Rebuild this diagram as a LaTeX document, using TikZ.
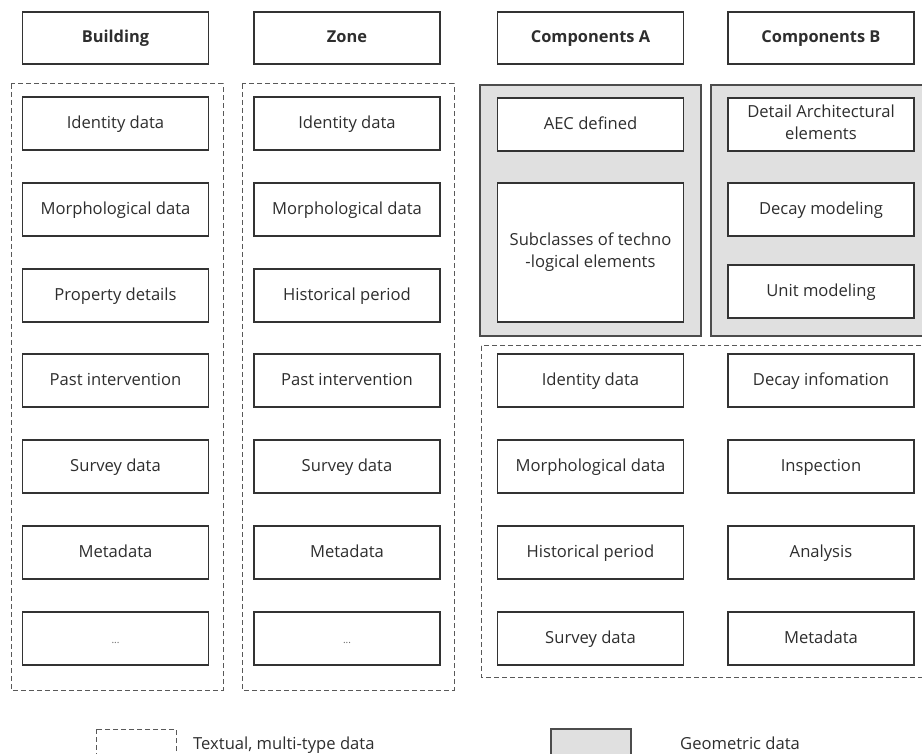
\documentclass[tikz,border=0pt]{standalone}
\usepackage{fontspec}
\setmainfont{Open Sans}
\newcommand\cellstrut{\rule[-5pt]{0pt}{20pt}}
\begin{document}
\begin{tikzpicture}[x=1pt,y=-1pt,
  cell/.style={draw=black!80, line width=1.8pt, fill=white, text=black!82,
    font=\fontsize{16.6}{21.5}\selectfont, align=center, inner sep=0pt,
    minimum width=186pt, minimum height=53pt, execute at begin node={\cellstrut}},
  head/.style={cell, font=\bfseries\fontsize{16.4}{21}\selectfont, minimum height=52pt},
  group/.style={draw=black!65, line width=1pt, dash pattern=on 5pt off 3pt},
  geo/.style={draw=black!70, fill=black!12, line width=1.2pt},
  legtext/.style={anchor=base west, inner sep=0pt, text=black!82, font=\fontsize{16.6}{21}\selectfont}]
\useasboundingbox (0,0) rectangle (922,754);

% column groups
\draw[group] (11,84) rectangle (223,690);
\draw[group] (242,84) rectangle (454,690);
\draw[geo] (480,85) rectangle (701,336);
\draw[geo] (711,85) rectangle (930,336);
\draw[group] (481,346) rectangle (930,677);

% headers
\node[head] (hb) at (115.5,38) {Building};
\node[head] (hz) at (347,38) {Zone};
\node[head] (ha) at (590.5,38) {Components A};
\node[head] (hc) at (821,38) {Components B};

% Building
\node[cell] (b1) at (115.5,123.5) {Identity data};
\node[cell] (b2) at (115.5,209.5) {Morphological data};
\node[cell] (b3) at (115.5,295.5) {Property details};
\node[cell] (b4) at (115.5,380.5) {Past intervention};
\node[cell] (b5) at (115.5,466.5) {Survey data};
\node[cell] (b6) at (115.5,552.5) {Metadata};
\node[cell, text=black!60] (b7) at (115.5,638.5) {\fontsize{10}{20}\selectfont ...};

% Zone
\node[cell] (z1) at (347,123.5) {Identity data};
\node[cell] (z2) at (347,209.5) {Morphological data};
\node[cell] (z3) at (347,295.5) {Historical period};
\node[cell] (z4) at (347,380.5) {Past intervention};
\node[cell] (z5) at (347,466.5) {Survey data};
\node[cell] (z6) at (347,552.5) {Metadata};
\node[cell, text=black!60] (z7) at (347,638.5) {\fontsize{10}{20}\selectfont ...};

% Components A, geometric part
\node[cell] (ag1) at (590.5,124.5) {AEC defined};
\node[cell, minimum height=139pt] (ag2) at (590.5,252.5) {Subclasses of techno\\-logical elements};

% Components B, geometric part
\node[cell] (bg1) at (821,124.5) {Detail Architectural\\elements};
\node[cell] (bg2) at (821,209.5) {Decay modeling};
\node[cell] (bg3) at (821,291.5) {Unit modeling};

% Components A, textual part
\node[cell] (at1) at (590.5,380.5) {Identity data};
\node[cell] (at2) at (590.5,466.5) {Morphological data};
\node[cell] (at3) at (590.5,552.5) {Historical period};
\node[cell] (at4) at (590.5,638.5) {Survey data};

% Components B, textual part
\node[cell] (bt1) at (821,380.5) {Decay infomation};
\node[cell] (bt2) at (821,466.5) {Inspection};
\node[cell] (bt3) at (821,552.5) {Analysis};
\node[cell] (bt4) at (821,638.5) {Metadata};

% legend
\draw[group] (96,729) rectangle (176,780);
\node[legtext] (l1) at (193,749) {Textual, multi-type data};
\draw[geo] (551,729) rectangle (631,780);
\node[legtext] (l2) at (680,749) {Geometric data};
\end{tikzpicture}
\end{document}
